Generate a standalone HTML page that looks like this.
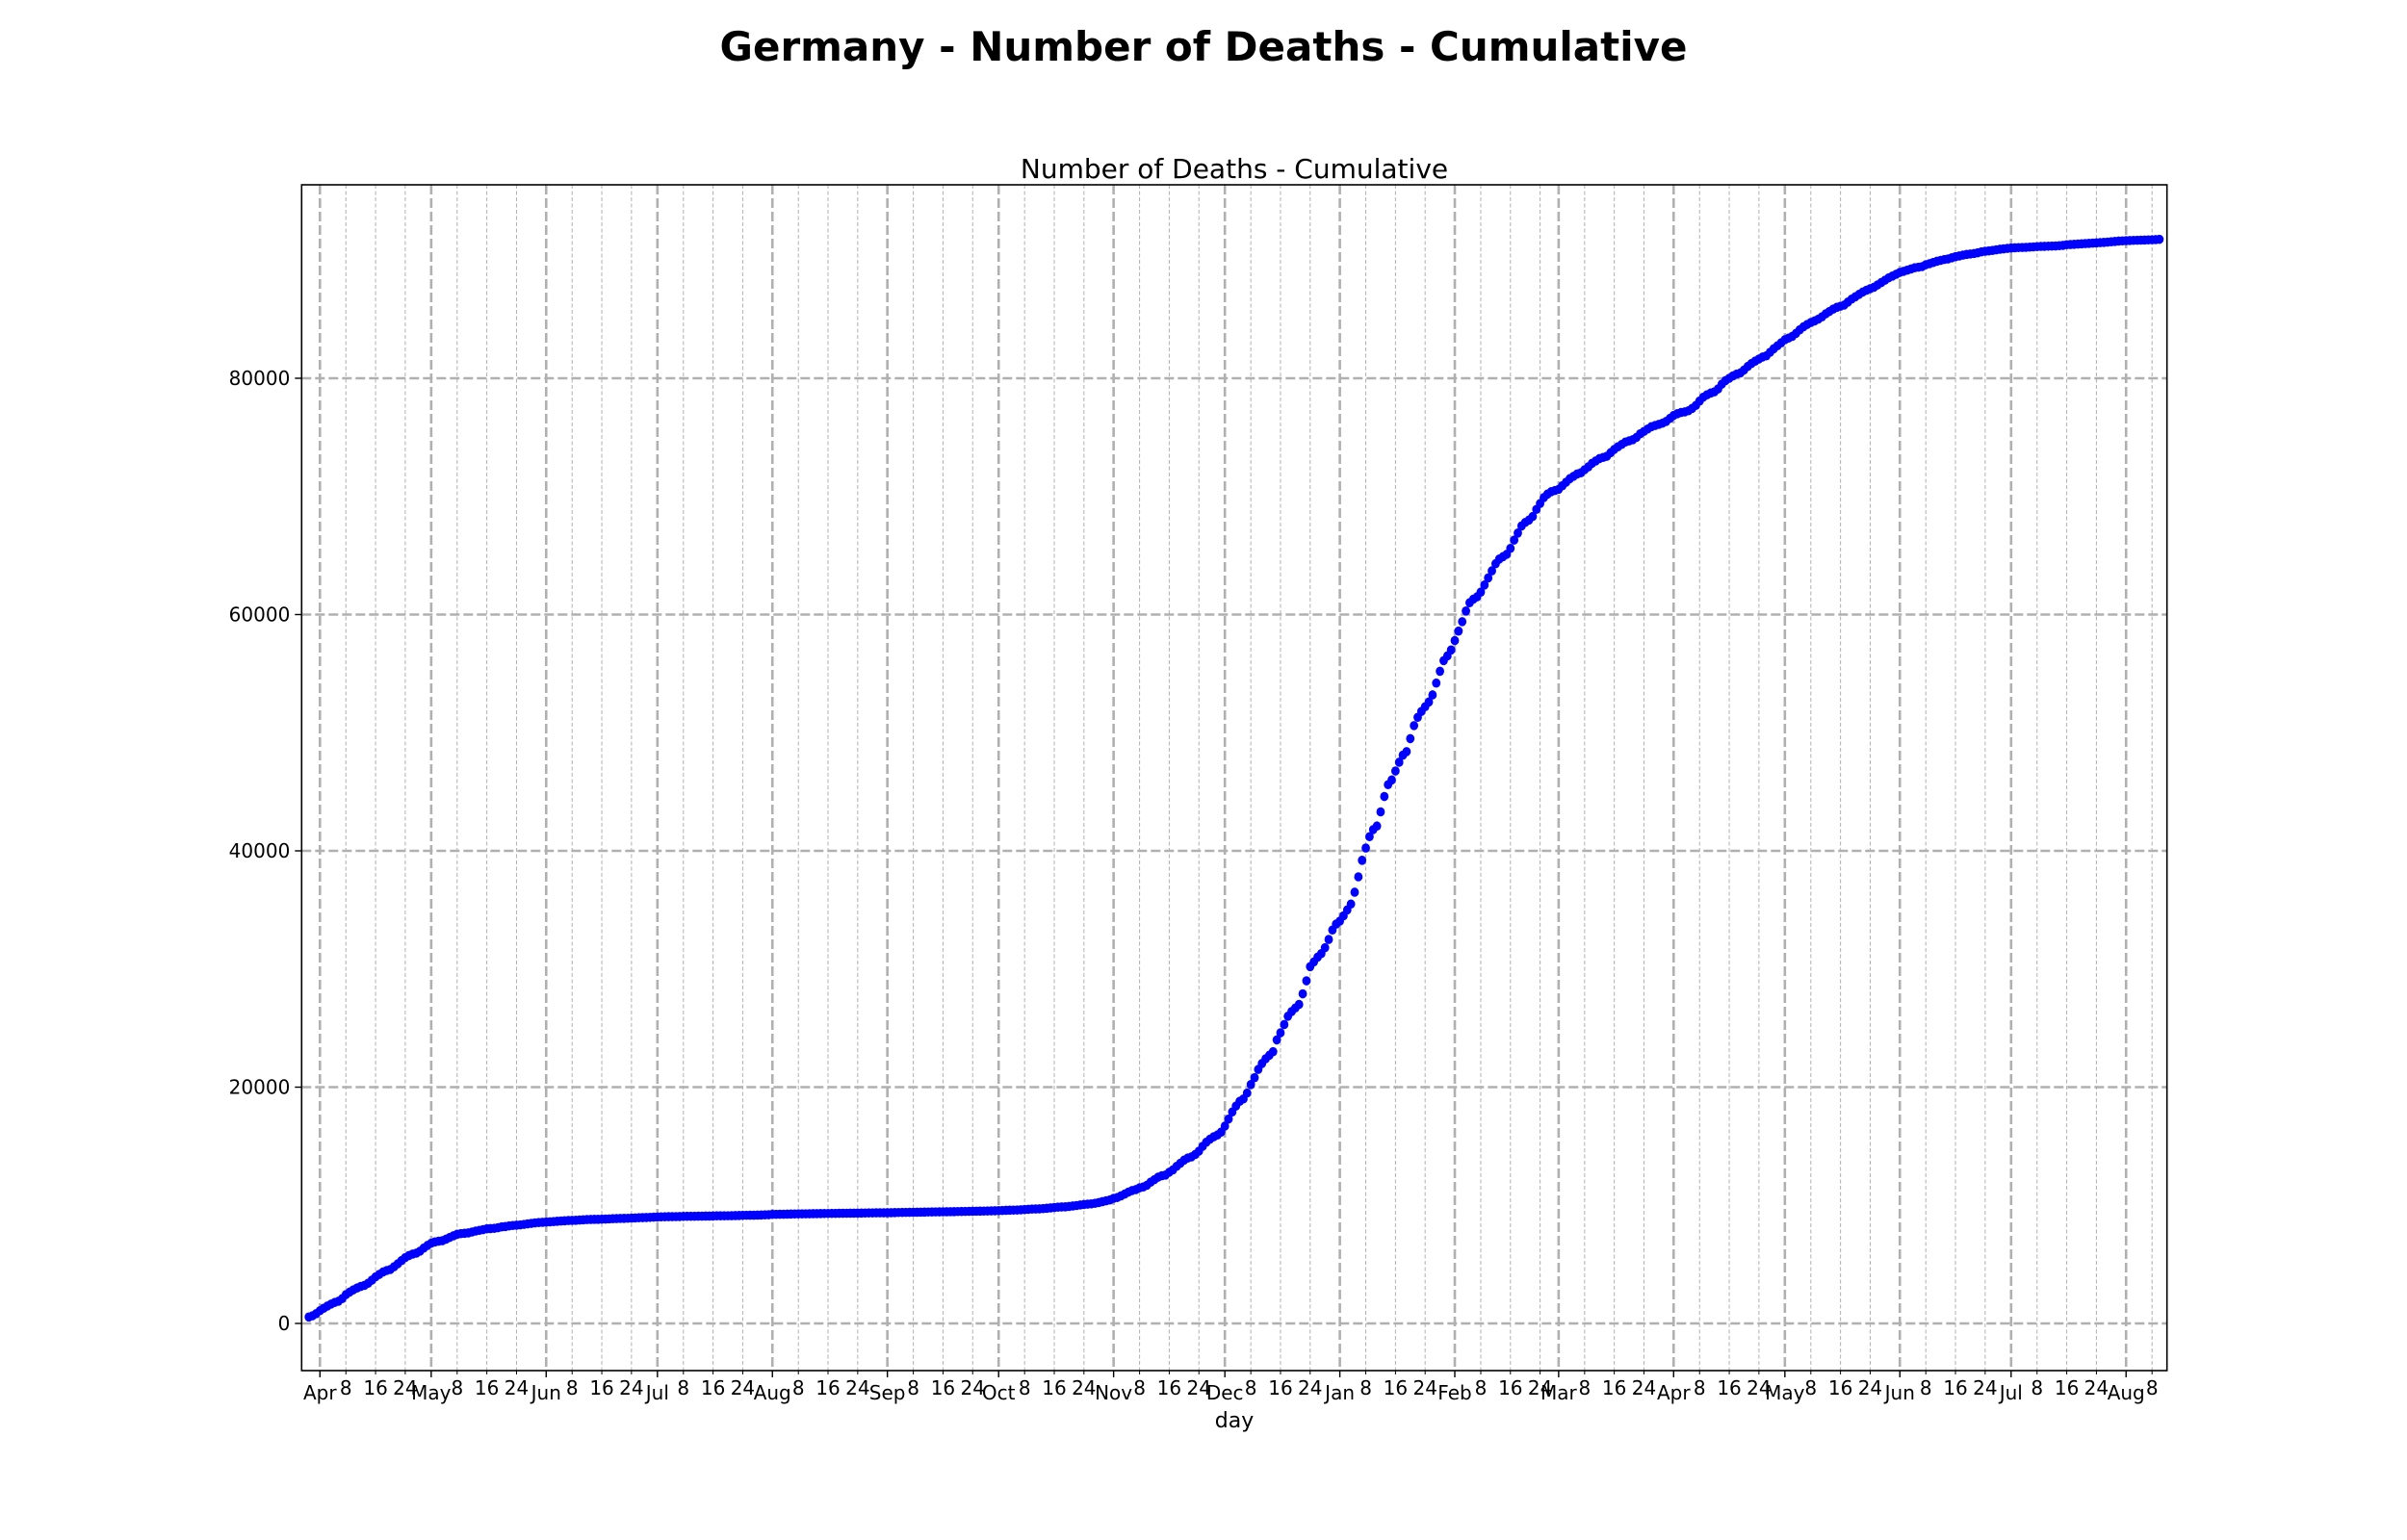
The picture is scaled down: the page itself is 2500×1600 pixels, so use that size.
<!DOCTYPE html>
<html><head><meta charset="utf-8"><style>
html,body{margin:0;padding:0;background:#fff;}
svg{display:block;font-family:"DejaVu Sans","Liberation Sans",sans-serif;}
</style></head><body>
<svg id="chart" width="2500" height="1600" viewBox="0 0 2500 1600">
<rect x="0" y="0" width="2500" height="1600" fill="#fff"/>
<text x="1250" y="63" text-anchor="middle" font-size="42" font-weight="bold">Germany - Number of Deaths - Cumulative</text>
<text x="1282" y="185" text-anchor="middle" font-size="28">Number of Deaths - Cumulative</text>
<g id="grid"></g>
<g id="ticks"></g>
<g id="points"></g>
<rect x="313.3" y="192" width="1937.4" height="1232" fill="none" stroke="#000" stroke-width="1.6"/>
<text x="1282" y="1483" text-anchor="middle" font-size="22">day</text>
</svg>
<script>
const startDate = "2020-03-29";
const deaths = [545,650,830,
1080,1280,1470,1640,1780,1880,2100,2440,2650,2840,3000,3130,3220,3400,3660,3940,4150,4350,4480,4570,4800,5050,5320,5570,5750,5870,5950,6120,6380,6600,
6790,6900,6960,7000,7130,7280,7420,7550,7600,7630,7660,7740,7820,7880,7940,8010,8030,8050,8100,8170,8200,8250,8290,8320,8340,8380,8430,8470,8510,8540,8560,
8580,8600,8620,8650,8670,8690,8710,8720,8730,8750,8770,8790,8800,8810,8815,8820,8830,8850,8870,8880,8890,8895,8900,8915,8930,8950,8960,8970,8980,9000,
9010,9020,9030,9035,9040,9042,9050,9060,9065,9070,9072,9075,9080,9085,9090,9100,9105,9110,9112,9115,9120,9130,9140,9150,9155,9158,9160,9170,9180,9190,9200,
9230,9235,9240,9245,9250,9258,9265,9270,9275,9278,9282,9290,9295,9300,9305,9307,9310,9315,9320,9325,9328,9330,9333,9337,9340,9345,9350,9355,9360,9362,9365,
9370,9375,9380,9390,9395,9400,9405,9410,9415,9420,9425,9430,9435,9440,9445,9450,9455,9460,9465,9470,9475,9480,9490,9495,9500,9505,9510,9520,9530,9540,
9550,9560,9575,9585,9590,9600,9620,9640,9660,9680,9690,9700,9720,9750,9780,9810,9840,9860,9870,9900,9940,9980,10030,10070,10100,10120,10170,10230,10310,10380,10450,
10590,10660,10800,10950,11120,11250,11330,11480,11550,11700,11960,12170,12380,12500,12560,12800,13000,13300,13560,13820,14000,14100,14300,14580,14990,15340,15600,15800,15950,16200,
16700,17300,17900,18400,18800,19000,19500,20220,20800,21500,22000,22400,22700,23000,24000,24600,25300,26000,26400,26700,27000,27900,29000,30200,30600,31000,31300,31800,32500,33300,33800,
34050,34500,35000,35500,36500,37800,39200,40240,41200,41800,42100,43300,44600,45600,46000,46760,47500,48100,48400,49500,50600,51300,51800,52200,52600,53200,54200,55200,56100,56500,57000,
57800,58600,59400,60300,61000,61300,61500,61900,62500,63100,63700,64300,64700,64900,65100,65600,66300,66900,67500,67800,68000,68300,68900,69400,69900,70200,70400,70500,
70600,70900,71200,71500,71700,71900,72000,72260,72500,72800,73000,73200,73300,73400,73700,73980,74200,74400,74600,74700,74800,75000,75300,75500,75700,75900,76000,76100,76200,76350,76600,
76850,77000,77100,77150,77250,77450,77700,78070,78400,78600,78750,78850,79100,79500,79800,80000,80200,80350,80450,80700,81000,81250,81450,81630,81800,81900,82200,82500,82750,83000,
83260,83400,83550,83800,84100,84350,84550,84720,84850,85000,85200,85450,85650,85850,86000,86100,86200,86450,86700,86900,87100,87300,87450,87580,87700,87900,88100,88300,88500,88650,88800,
88960,89050,89150,89250,89350,89400,89450,89610,89700,89800,89900,89980,90050,90100,90200,90290,90350,90420,90480,90520,90560,90620,90700,90750,90780,90820,90870,90920,90950,90990,
91020,91040,91060,91070,91080,91100,91120,91140,91160,91170,91180,91190,91200,91220,91250,91300,91320,91340,91360,91380,91400,91420,91440,91460,91480,91500,91520,91550,91580,91610,91630,
91650,91660,91670,91680,91690,91700,91710,91720,91740,91760];
const yTicks = [0,20000,40000,60000,80000];
const monthLabels = ["Apr","May","Jun","Jul","Aug","Sep","Oct","Nov","Dec","Jan","Feb","Mar","Apr","May","Jun","Jul","Aug"];
const minorDays = [8,16,24];

const NS = "http://www.w3.org/2000/svg";
const DAY = 86400000;
const origin = Date.UTC(2020,3,1);
const X0 = 332.3, PXD = 3.852;
const Y0 = 1375, PXV = 0.012275;
const LEFT = 313.3, RIGHT = 2250.7, TOP = 192, BOTTOM = 1424;
function xScale(dayIdx){ return X0 + dayIdx*PXD; }
function yScale(v){ return Y0 - v*PXV; }
function mk(tag, attrs, parent){ const e = document.createElementNS(NS, tag); for (const k in attrs) e.setAttribute(k, attrs[k]); parent.appendChild(e); return e; }
const grid = document.getElementById("grid"), ticks = document.getElementById("ticks"), pts = document.getElementById("points");

yTicks.forEach(v => {
  const y = yScale(v);
  const l = mk("line", {x1:LEFT, x2:RIGHT, y1:y, y2:y, stroke:"#b0b0b0", "stroke-width":2.6, "stroke-dasharray":"10,4"}, grid);
  
  
  const t = mk("line", {x1:LEFT-7, x2:LEFT, y1:y, y2:y, stroke:"#000", "stroke-width":1.4}, ticks);
  
  
  const tx = mk("text", {x:LEFT-12, y:y+7, "text-anchor":"end", "font-size":20}, ticks);
  tx.textContent = String(v);
  
  
});

monthLabels.forEach((m, i) => {
  const yr = 2020 + Math.floor((3+i)/12), mo = (3+i)%12;
  const d0 = (Date.UTC(yr,mo,1) - origin)/DAY;
  const xs = [[d0, m, true]];
  minorDays.forEach(dd => xs.push([(Date.UTC(yr,mo,dd)-origin)/DAY, String(dd), false]));
  xs.forEach(([d, lab, major]) => {
    const x = xScale(d);
    if (x < LEFT || x > RIGHT) return;
    const g = mk("line", {x1:x, x2:x, y1:TOP, y2:BOTTOM, stroke:"#b0b0b0", "stroke-width": major?2.6:1, "stroke-dasharray": major?"10,4":"4,2.5"}, grid);
    
    
    const t = mk("line", {x1:x, x2:x, y1:BOTTOM, y2:BOTTOM+(major?7:4), stroke:"#000", "stroke-width":major?1.4:1}, ticks);
    
    
    const tx = mk("text", {x:x, y:BOTTOM+(major?30:25), "text-anchor":"middle", "font-size":20}, ticks);
    tx.textContent = lab;
    
    
  });
});

const sd = (Date.UTC(2020,2,29) - origin)/DAY;
deaths.forEach((v, i) => {
  const c = mk("ellipse", {cx:xScale(sd+i), cy:yScale(v), rx:4.4, ry:4.8, fill:"#0000ff"}, pts);
  
  
});
</script>
</body></html>
